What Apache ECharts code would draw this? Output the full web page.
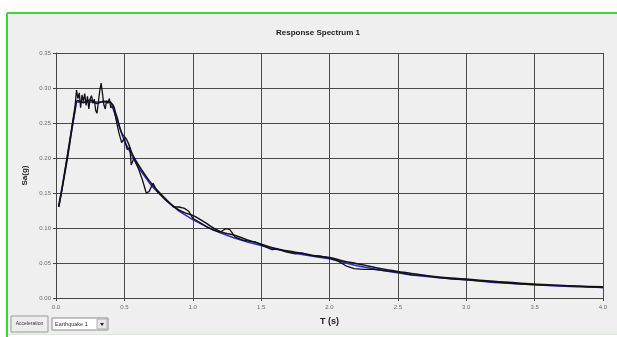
<!DOCTYPE html>
<html>
<head>
<meta charset="utf-8">
<script src="https://cdn.jsdelivr.net/npm/echarts@6/dist/echarts.min.js"></script>
<style>
  html, body { margin: 0; padding: 0; background: #ffffff; }
  #chart { width: 617px; height: 337px; }
</style>
</head>
<body>
<div id="chart"></div>
<script>
// target (design) spectrum
const targetT = [0.02, 0.15, 0.40, 0.50, 0.60, 0.70, 0.80, 0.90, 1.00, 1.10, 1.20, 1.30, 1.40, 1.50, 1.60, 1.70, 1.80, 1.90, 2.00, 2.20, 2.40, 2.60, 2.80, 3.00, 3.20, 3.40, 3.60, 3.80, 4.00];
const targetSa = [0.130, 0.280, 0.280, 0.224, 0.187, 0.160, 0.140, 0.124, 0.112, 0.102, 0.093, 0.086, 0.080, 0.075, 0.070, 0.066, 0.062, 0.059, 0.056, 0.046, 0.039, 0.033, 0.029, 0.026, 0.022, 0.020, 0.018, 0.016, 0.015];

// jagged record spectrum
const rawT = [0.02, 0.04, 0.06, 0.08, 0.10, 0.12, 0.14, 0.15, 0.16, 0.17, 0.18, 0.19, 0.20, 0.21, 0.22, 0.23, 0.24, 0.25, 0.26, 0.27, 0.28, 0.29, 0.30, 0.31, 0.32, 0.33, 0.34, 0.35, 0.36, 0.37, 0.38, 0.39, 0.40, 0.42, 0.44, 0.46, 0.48, 0.50, 0.52, 0.54, 0.55, 0.57, 0.60, 0.63, 0.66, 0.68, 0.71, 0.74, 0.78, 0.82, 0.86, 0.90, 0.94, 0.97, 1.00, 1.05, 1.10, 1.15, 1.20, 1.24, 1.27, 1.31, 1.36, 1.42, 1.46, 1.52, 1.58, 1.62, 1.68, 1.75, 1.80, 1.86, 1.93, 2.00, 2.06, 2.12, 2.18, 2.25, 2.32, 2.40, 2.50, 2.60, 2.70, 2.80, 2.90, 3.00, 3.20, 3.40, 3.60, 3.80, 4.00];
const rawSa = [0.130, 0.150, 0.175, 0.200, 0.225, 0.250, 0.275, 0.297, 0.285, 0.293, 0.272, 0.290, 0.281, 0.292, 0.275, 0.288, 0.270, 0.285, 0.289, 0.278, 0.284, 0.268, 0.264, 0.280, 0.296, 0.307, 0.292, 0.276, 0.270, 0.282, 0.278, 0.285, 0.272, 0.274, 0.254, 0.236, 0.222, 0.228, 0.212, 0.215, 0.190, 0.200, 0.186, 0.170, 0.150, 0.152, 0.164, 0.152, 0.145, 0.137, 0.130, 0.130, 0.128, 0.124, 0.114, 0.108, 0.102, 0.097, 0.094, 0.099, 0.098, 0.087, 0.083, 0.081, 0.080, 0.074, 0.069, 0.070, 0.066, 0.063, 0.064, 0.061, 0.060, 0.057, 0.053, 0.046, 0.042, 0.041, 0.041, 0.039, 0.037, 0.033, 0.032, 0.029, 0.027, 0.026, 0.023, 0.020, 0.018, 0.017, 0.015];

// matched (smoother) spectrum
const matchT = [0.02, 0.08, 0.14, 0.16, 0.20, 0.25, 0.30, 0.35, 0.40, 0.44, 0.48, 0.52, 0.56, 0.62, 0.68, 0.75, 0.82, 0.88, 0.94, 1.00, 1.08, 1.20, 1.30, 1.40, 1.50, 1.60, 1.70, 1.80, 1.90, 2.00, 2.10, 2.20, 2.30, 2.40, 2.50, 2.60, 2.80, 3.00, 3.20, 3.40, 3.60, 3.80, 4.00];
const matchSa = [0.132, 0.195, 0.270, 0.282, 0.279, 0.283, 0.278, 0.281, 0.279, 0.262, 0.236, 0.225, 0.205, 0.185, 0.168, 0.152, 0.138, 0.128, 0.122, 0.118, 0.109, 0.095, 0.090, 0.083, 0.077, 0.071, 0.067, 0.064, 0.060, 0.058, 0.053, 0.049, 0.045, 0.041, 0.038, 0.035, 0.030, 0.027, 0.024, 0.021, 0.019, 0.017, 0.016];

const pairs = (xs, ys) => xs.map((x, i) => [x, ys[i]]);

const chart = echarts.init(document.getElementById('chart'));
const labelStyle = { color: '#6b6b6b', fontSize: 6, fontFamily: 'Liberation Sans' };

chart.setOption({
  backgroundColor: '#ffffff',
  animation: false,
  title: {
    text: 'Response Spectrum 1',
    left: 313,
    top: 24,
    textAlign: 'center',
    textStyle: { fontSize: 8, fontWeight: 'bold', color: '#222', fontFamily: 'Liberation Sans' }
  },
  grid: { left: 56, right: 14, top: 53, bottom: 39, show: false },
  xAxis: {
    type: 'value',
    min: 0, max: 4, interval: 0.5,
    name: 'T (s)',
    nameLocation: 'middle',
    nameGap: 19,
    nameTextStyle: { fontSize: 9, fontWeight: 'bold', color: '#222', fontFamily: 'Liberation Sans' },
    axisLine: { lineStyle: { color: '#444', width: 1 } },
    axisTick: { show: true, length: 3, lineStyle: { color: '#444' } },
    axisLabel: Object.assign({ margin: 6, formatter: v => v.toFixed(1) }, labelStyle),
    splitLine: { show: true, lineStyle: { color: '#4a4a4a', width: 1 } }
  },
  yAxis: {
    type: 'value',
    min: 0, max: 0.35, interval: 0.05,
    name: 'Sa(g)',
    nameLocation: 'middle',
    nameGap: 27,
    nameRotate: 90,
    nameTextStyle: { fontSize: 8, fontWeight: 'bold', color: '#222', fontFamily: 'Liberation Sans' },
    axisLine: { show: true, lineStyle: { color: '#444', width: 1 } },
    axisTick: { show: true, length: 3, lineStyle: { color: '#444' } },
    axisLabel: Object.assign({ margin: 5, formatter: v => v.toFixed(2) }, labelStyle),
    splitLine: { show: true, lineStyle: { color: '#4a4a4a', width: 1 } }
  },
  graphic: [
    { type: 'rect', z: -10, shape: { x: 7, y: 13, width: 610, height: 321 }, style: { fill: '#efefef' } },
    { type: 'line', z: 100, shape: { x1: 7, y1: 13, x2: 617, y2: 13 }, style: { stroke: '#3fd43f', lineWidth: 2 } },
    { type: 'line', z: 100, shape: { x1: 7, y1: 13, x2: 7, y2: 337 }, style: { stroke: '#3fd43f', lineWidth: 2 } },
    { type: 'line', z: 100, shape: { x1: 8, y1: 334.5, x2: 617, y2: 334.5 }, style: { stroke: '#d8ecd8', lineWidth: 1 } },
    // "Acceleration" button
    { type: 'rect', z: 100, shape: { x: 11, y: 316, width: 37, height: 16 }, style: { fill: '#eeeeee', stroke: '#9a9a9a', lineWidth: 1 } },
    { type: 'text', z: 101, x: 29.5, y: 324, style: { text: 'Acceleration', fontSize: 5, fill: '#333', align: 'center', verticalAlign: 'middle', fontFamily: 'Liberation Sans' } },
    // "Earthquake 1" dropdown
    { type: 'rect', z: 100, shape: { x: 52, y: 318, width: 56, height: 12 }, style: { fill: '#ffffff', stroke: '#8a8a8a', lineWidth: 1 } },
    { type: 'text', z: 101, x: 55, y: 324, style: { text: 'Earthquake 1', fontSize: 5.5, fill: '#333', verticalAlign: 'middle', fontFamily: 'Liberation Sans' } },
    { type: 'rect', z: 101, shape: { x: 97, y: 319, width: 10, height: 10 }, style: { fill: '#e6e6e6', stroke: '#b0b0b0', lineWidth: 1 } },
    { type: 'polygon', z: 102, shape: { points: [[100, 323], [104, 323], [102, 326]] }, style: { fill: '#222' } }
  ],
  series: [
    {
      name: 'Target', type: 'line', data: pairs(targetT, targetSa),
      showSymbol: false, smooth: false, z: 2,
      lineStyle: { color: '#2a2ad0', width: 1.5 }
    },
    {
      name: 'Matched', type: 'line', data: pairs(matchT, matchSa),
      showSymbol: false, smooth: true, z: 3,
      lineStyle: { color: '#151515', width: 1.5 }
    },
    {
      name: 'Record', type: 'line', data: pairs(rawT, rawSa),
      showSymbol: false, smooth: false, z: 4,
      lineStyle: { color: '#111111', width: 1.3 }
    }
  ]
});
</script>
</body>
</html>
